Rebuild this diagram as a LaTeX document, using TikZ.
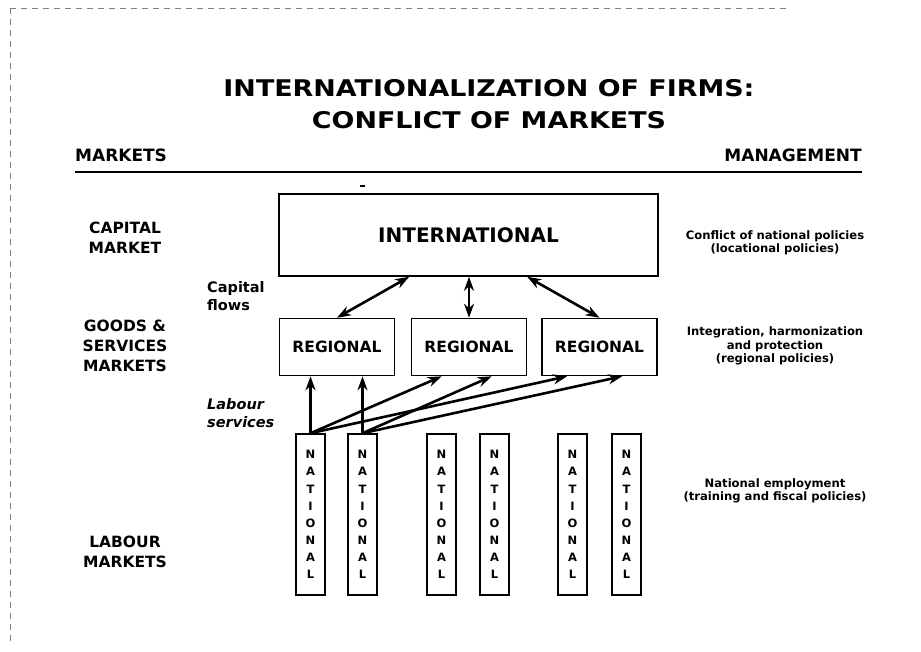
\documentclass[tikz,border=0pt]{standalone}
\usepackage{fontspec}
\setmainfont{DejaVu Sans}
\newfontfamily\titlefont[FakeStretch=1.17]{DejaVu Sans}
\usetikzlibrary{arrows.meta,calc}
\begin{document}
\begin{tikzpicture}[x=1pt,y=-1pt,
  box/.style={draw,line width=1.6pt,inner sep=0pt,font=\bfseries},
  natbox/.style={box,minimum width=29pt,minimum height=161pt,align=center,font=\bfseries\fontsize{11.5}{17.1}\selectfont},
  regbox/.style={box,minimum width=115pt,minimum height=57pt,font=\bfseries\fontsize{15.5}{16}\selectfont},
  lab/.style={font=\bfseries\fontsize{15.5}{20}\selectfont,align=center,inner sep=0pt},
  side/.style={font=\bfseries\fontsize{14.5}{18}\selectfont,align=left,inner sep=0pt,anchor=west},
  note/.style={font=\bfseries\fontsize{11.6}{13.5}\selectfont,align=center,inner sep=0pt},
  dbl/.style={line width=2.6pt,{Stealth[length=14pt,width=10pt]}-{Stealth[length=14pt,width=10pt]}},
  sgl/.style={line width=2.6pt,-{Stealth[length=14pt,width=10pt]}},
  scan/.style={line width=0.6pt,gray,dash pattern=on 6pt off 5pt}]
\useasboundingbox (0,0) rectangle (921,651);
% scan border remnants
\draw[scan] (10,8) -- (790,8);
\draw[scan] (10,8) -- (10,645);
% title
\node[font=\titlefont\bfseries\fontsize{23}{31.5}\selectfont,align=center,inner sep=0pt] (title) at (489,104) {INTERNATIONALIZATION OF FIRMS:\\CONFLICT OF MARKETS};
\node[font=\bfseries\fontsize{17}{18}\selectfont,anchor=west,inner sep=0pt] (mk) at (75,155) {MARKETS};
\node[font=\bfseries\fontsize{17}{18}\selectfont,anchor=east,inner sep=0pt] (mg) at (862,155) {MANAGEMENT};
\draw[line width=2pt] (mk.west |- 0,172) coordinate (r1) -- (mg.east |- 0,172) coordinate (r2);
\draw[line width=1.4pt] (360,186) coordinate (d1) -- (365,186) coordinate (d2);
% boxes
\node[box,minimum width=379pt,minimum height=82pt,font=\bfseries\fontsize{20}{20}\selectfont] (int) at (468.5,235) {INTERNATIONAL};
\node[regbox] (reg1) at (337,347) {REGIONAL};
\node[regbox] (reg2) at (469,347) {REGIONAL};
\node[regbox] (reg3) at (599.5,347) {REGIONAL};
\foreach \i/\x in {1/310.5,2/362.5,3/441.5,4/494.5,5/572.5,6/626.5}{
  \node[natbox] (n\i) at (\x,514.5) {N\\A\\T\\I\\O\\N\\A\\L};
}
% capital flows
\coordinate (c1) at ($(int.south west)+(131,0)$);
\coordinate (c3) at ($(int.south west)+(249,0)$);
\draw[dbl] (c1) -- (reg1.north);
\draw[dbl] (int.south -| reg2.north) -- (reg2.north);
\draw[dbl] (c3) -- (reg3.north);
% labour services
\draw[sgl] (n1.north) -- (reg1.south -| n1.north);
\draw[sgl] (n2.north) -- (reg1.south -| n2.north);
\draw[sgl] (n1.north) -- ($(reg2.south west)+(31,0)$) coordinate (l12);
\draw[sgl] (n1.north) -- ($(reg3.south west)+(26,0)$) coordinate (l13);
\draw[sgl] (n2.north) -- ($(reg2.south west)+(81,0)$) coordinate (l22);
\draw[sgl] (n2.north) -- ($(reg3.south west)+(81,0)$) coordinate (l23);
% left labels
\node[lab] (cm) at (125,238) {CAPITAL\\MARKET};
\node[lab] (gs) at (125,346) {GOODS \&\\SERVICES\\MARKETS};
\node[lab] (lm) at (125,552) {LABOUR\\MARKETS};
\node[side] (cf) at (207,296) {Capital\\flows};
\node[side,font=\bfseries\itshape\fontsize{14.5}{18}\selectfont] (ls) at (207,413) {Labour\\services};
% right notes
\node[note] (nt1) at (775,243) {Conflict of national policies\\(locational policies)};
\node[note] (nt2) at (775,346) {Integration, harmonization\\and protection\\(regional policies)};
\node[note] (nt3) at (775,491) {National employment\\(training and fiscal policies)};
\end{tikzpicture}
\end{document}
